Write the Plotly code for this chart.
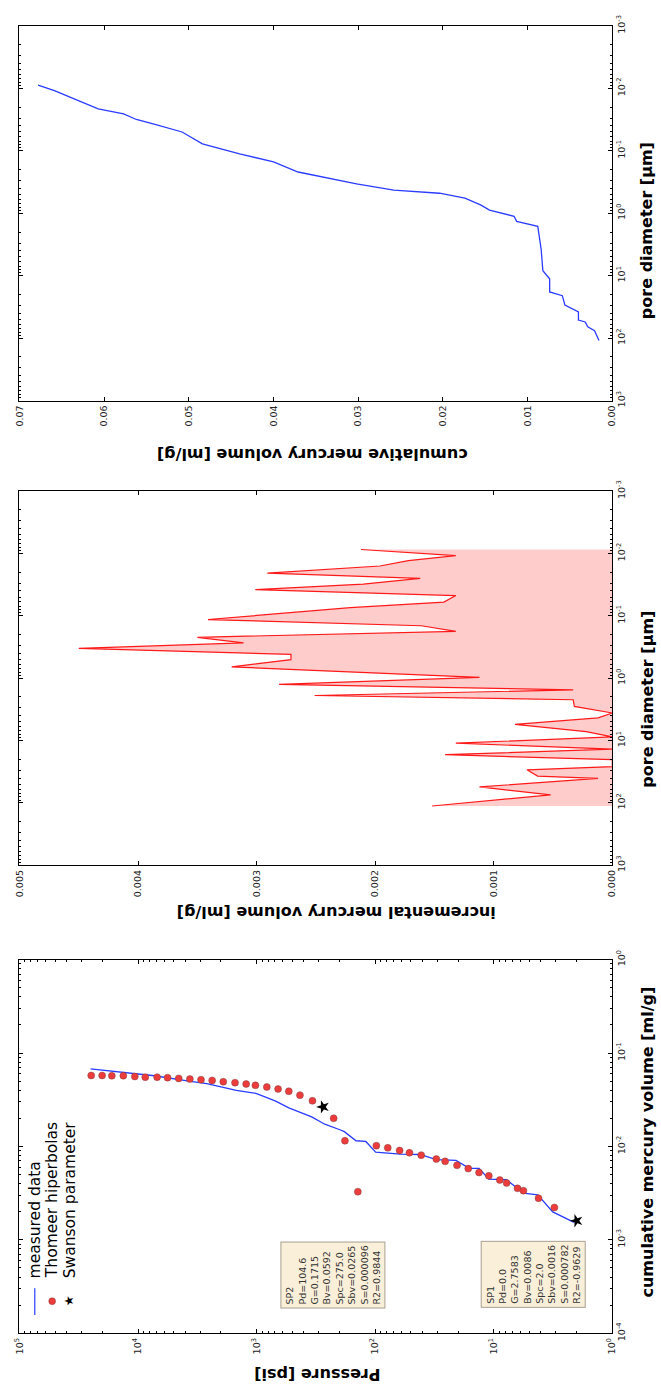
import plotly.graph_objects as go

W, H = 661, 1396

# ---------------- data ----------------
# Panel A (top of picture): cumulative mercury volume vs pore diameter
cum_diam_um = [109, 75.9, 66, 55, 51.3, 38, 29.5, 20.9, 18.2, 11.2, 8.3, 3.8, 1.62, 1.35,
               1.12, 0.891, 0.741, 0.575, 0.479, 0.427, 0.339, 0.219, 0.151, 0.112,
               0.0776, 0.0501, 0.038, 0.0316, 0.0257, 0.0214, 0.0151, 0.011, 0.0089]
cum_volume = [0.00157, 0.0021, 0.0029, 0.0032, 0.0040, 0.0040, 0.0056, 0.0059, 0.0074,
              0.0074, 0.0082, 0.0084, 0.0088, 0.0113, 0.0116, 0.0145, 0.0155, 0.0174,
              0.0204, 0.0258, 0.0302, 0.0371, 0.0400, 0.0440, 0.0484, 0.0508, 0.0540,
              0.0562, 0.0577, 0.0607, 0.0634, 0.0658, 0.0678]

# Panel B (middle): incremental mercury volume vs pore diameter
inc_diam_um = [0.00865, 0.01087, 0.01306, 0.01589, 0.0207, 0.0251, 0.0310, 0.0381, 0.0474,
               0.0603, 0.0741, 0.1148, 0.1445, 0.1778, 0.2213, 0.2723, 0.334, 0.416, 0.506,
               0.661, 0.975, 1.259, 1.542, 1.898, 2.22, 2.84, 3.62, 4.34, 5.52, 7.23, 8.77,
               11.04, 13.74, 16.9, 20.3, 26.2, 29.5, 37.2, 40.5, 55.6, 74.5, 112.4]
inc_volume = [0.00212, 0.00132, 0.00172, 0.00196, 0.00291, 0.00162, 0.00210, 0.00301,
              0.00132, 0.00142, 0.00221, 0.00341, 0.00161, 0.00132, 0.00350, 0.00311,
              0.00450, 0.00271, 0.00271, 0.00321, 0.00112, 0.00281, 0.00033, 0.00251,
              0.00033, 0.00032, 0.0, 0.00012, 0.00082, 0.00022, 0.0, 0.00132, 0.0,
              0.00141, 0.0, 0.0, 0.00072, 0.00063, 0.00012, 0.00112, 0.00052, 0.00152]

# Panel C (bottom): pressure vs cumulative mercury volume
meas_pressure = [25119, 13305, 7278, 3606, 2630, 1483, 1012, 690, 535, 343, 266, 196, 182,
                 145, 120, 99, 61.5, 42.0, 30.5, 20.8, 16.1, 13.3, 11.0, 7.78, 5.62, 4.25,
                 3.18, 2.10]
meas_volume = [0.0678, 0.0619, 0.0571, 0.0498, 0.0470, 0.0399, 0.0369, 0.0305, 0.0259,
               0.0207, 0.0173, 0.0150, 0.0144, 0.0115, 0.0113, 0.00869, 0.00828, 0.00820,
               0.00721, 0.00710, 0.00583, 0.00583, 0.00447, 0.00440, 0.00316, 0.00303,
               0.00199, 0.00154]
thomeer_pressure = [24831, 20091, 16634, 13305, 10641, 8690, 6902, 5636, 4539, 3656, 2944,
                    2371, 1910, 1521, 1225, 1023, 820, 659, 535, 431, 338, 224, 180, 140,
                    97.7, 78.3, 62.2, 51.4, 40.9, 30.5, 25.7, 20.4, 16.4, 13.3, 11.0, 8.89,
                    7.78, 6.30, 5.62, 4.19, 3.08]
thomeer_volume = [0.0575, 0.0575, 0.0571, 0.0571, 0.0561, 0.0552, 0.0552, 0.0545, 0.0535,
                  0.0526, 0.0519, 0.0509, 0.0493, 0.0482, 0.0466, 0.0451, 0.0433, 0.0412,
                  0.0390, 0.0354, 0.0308, 0.0200, 0.0115, 0.00328, 0.0102, 0.00966,
                  0.00906, 0.00855, 0.00807, 0.00733, 0.00692, 0.00628, 0.00579, 0.00526,
                  0.00484, 0.00437, 0.00406, 0.00356, 0.00336, 0.00279, 0.00222]
swanson_pressure = [275.0, 2.0]
swanson_volume = [0.0265, 0.0016]

sp2_lines = ["SP2", "Pd=104.6", "G=0.1715", "Bv=0.0592", "Spc=275.0", "Sbv=0.0265",
             "S=0.000096", "R2=0.9844"]
sp1_lines = ["SP1", "Pd=0.0", "G=2.7583", "Bv=0.0086", "Spc=2.0", "Sbv=0.0016",
             "S=0.000782", "R2=-0.9629"]
legend_labels = ["measured data", "Thomeer hiperbolas", "Swanson parameter"]

cum_tickvals = [0.0, 0.01, 0.02, 0.03, 0.04, 0.05, 0.06, 0.07]
cum_ticktext = ["0.00", "0.01", "0.02", "0.03", "0.04", "0.05", "0.06", "0.07"]
inc_tickvals = [0.0, 0.001, 0.002, 0.003, 0.004, 0.005]
inc_ticktext = ["0.000", "0.001", "0.002", "0.003", "0.004", "0.005"]
diam_exps = [-3, -2, -1, 0, 1, 2, 3]
pres_exps = [0, 1, 2, 3, 4, 5]
vol_exps = [-4, -3, -2, -1, 0]

# ---------------- helpers (positions only) ----------------
def px(x):
    return x / W

def py(y):
    return 1 - y / H

def log_ticks(exps):
    vals = [10.0 ** e for e in exps]
    text = ["10<sup>%d</sup>" % e for e in exps]
    minor = [k * 10.0 ** e for e in exps[:-1] for k in range(2, 10)]
    return vals, text, minor

XDOM = [px(12.7), px(616.5)]
TOP_DOM = [py(395), py(15)]
MID_DOM = [py(866), py(486.7)]
BOT_DOM = [py(1340.5), py(961.7)]

tickfont = dict(family="DejaVu Sans", size=9.5, color="#222")
common = dict(showline=True, linecolor="black", linewidth=1, mirror="ticks",
              ticks="inside", ticklen=4, tickwidth=1, tickcolor="black",
              showgrid=False, zeroline=False, tickfont=tickfont, tickangle=-90)

fig = go.Figure()

# Panel A
fig.add_trace(go.Scatter(x=cum_volume, y=cum_diam_um, mode="lines",
                         line=dict(color="#2b3cff", width=1.3),
                         xaxis="x", yaxis="y", showlegend=False))
# Panel B
fig.add_trace(go.Scatter(x=inc_volume, y=inc_diam_um, mode="lines",
                         line=dict(color="#ff1a1a", width=1.2),
                         fill="tozerox", fillcolor="rgba(255,0,0,0.2)",
                         xaxis="x2", yaxis="y2", showlegend=False))
# Panel C
fig.add_trace(go.Scatter(x=meas_pressure, y=meas_volume, mode="lines",
                         line=dict(color="#2b3cff", width=1.3),
                         xaxis="x3", yaxis="y3", showlegend=False))
fig.add_trace(go.Scatter(x=thomeer_pressure, y=thomeer_volume, mode="markers",
                         marker=dict(color="#ec3c3c", size=7,
                                     line=dict(color="rgba(110,60,60,0.7)", width=0.6)),
                         xaxis="x3", yaxis="y3", showlegend=False))
fig.add_trace(go.Scatter(x=swanson_pressure, y=swanson_volume, mode="markers",
                         marker=dict(color="black", size=10, symbol="star", angle=-90),
                         xaxis="x3", yaxis="y3", showlegend=False))

dv, dt, dm = log_ticks(diam_exps)
pv, pt, pm = log_ticks(pres_exps)
vv, vt, vm = log_ticks(vol_exps)

minor_log = lambda m: dict(ticks="inside", ticklen=2, tickwidth=1, tickcolor="black",
                           tickvals=m, showgrid=False)

fig.update_layout(
    width=W, height=H, margin=dict(l=0, r=0, t=0, b=0),
    paper_bgcolor="white", plot_bgcolor="white",
    font=dict(family="DejaVu Sans", color="black"),
    xaxis=dict(domain=XDOM, anchor="y", range=[0.07, 0.0], tickvals=cum_tickvals,
               ticktext=cum_ticktext, **common),
    yaxis=dict(domain=TOP_DOM, anchor="x", type="log", range=[3, -3], side="right",
               tickvals=dv, ticktext=dt, minor=minor_log(dm), **common),
    xaxis2=dict(domain=XDOM, anchor="y2", range=[0.005, 0.0], tickvals=inc_tickvals,
                ticktext=inc_ticktext, **common),
    yaxis2=dict(domain=MID_DOM, anchor="x2", type="log", range=[3, -3], side="right",
                tickvals=dv, ticktext=dt, minor=minor_log(dm), **common),
    xaxis3=dict(domain=XDOM, anchor="y3", type="log", range=[5, 0], tickvals=pv,
                ticktext=pt, minor=minor_log(pm), **common),
    yaxis3=dict(domain=BOT_DOM, anchor="x3", type="log", range=[-4, 0], side="right",
                tickvals=vv, ticktext=vt, minor=minor_log(vm), **common),
)

ann = []
title_font = dict(family="DejaVu Sans", size=16, color="black")
def title(text, x, y, angle):
    ann.append(dict(text="<b>%s</b>" % text, x=px(x), y=py(y), xref="paper", yref="paper",
                    showarrow=False, textangle=angle, xanchor="center", yanchor="middle",
                    font=title_font))

title("cumulative mercury volume [ml/g]", 311, 449, 180)
title("incremental mercury volume [ml/g]", 335, 914, 180)
title("Pressure [psi]", 316, 1383, 180)
title("pore diameter [µm]", 652, 223, -90)
title("pore diameter [µm]", 652, 698, -90)
title("cumulative mercury volume [ml/g]", 652, 1147, -90)

box_font = dict(family="DejaVu Sans", size=9.5, color="#333")
for lines, cx in ((sp2_lines, 332), (sp1_lines, 536)):
    ann.append(dict(text="<br>".join(lines), x=px(cx), y=py(1281), xref="paper",
                    yref="paper", showarrow=False, textangle=-90, align="left",
                    xanchor="center", yanchor="middle", bgcolor="#faefd9",
                    bordercolor="#a89f91", borderwidth=1, borderpad=3, font=box_font))

leg_font = dict(family="DejaVu Sans", size=15.5, color="black")
for lab, cx in zip(legend_labels, (29, 46.5, 64.5)):
    ann.append(dict(text=lab, x=px(cx), y=py(1287), xref="paper", yref="paper",
                    showarrow=False, textangle=-90, xanchor="center", yanchor="bottom",
                    font=leg_font))
ann.append(dict(text="★", x=px(63.3), y=py(1308), xref="paper", yref="paper",
                showarrow=False, textangle=-90, xanchor="center", yanchor="middle",
                font=dict(family="DejaVu Sans", size=12, color="black")))

fig.update_layout(annotations=ann, shapes=[
    dict(type="line", xref="paper", yref="paper", x0=px(28.3), x1=px(28.3),
         y0=py(1295), y1=py(1322), line=dict(color="#2b3cff", width=1.2)),
    dict(type="circle", xref="paper", yref="paper", x0=px(42.5), x1=px(49.5),
         y0=py(1311.5), y1=py(1304.5), fillcolor="#ec3c3c",
         line=dict(color="rgba(110,60,60,0.7)", width=0.6)),
])

fig.write_html("out.html")
